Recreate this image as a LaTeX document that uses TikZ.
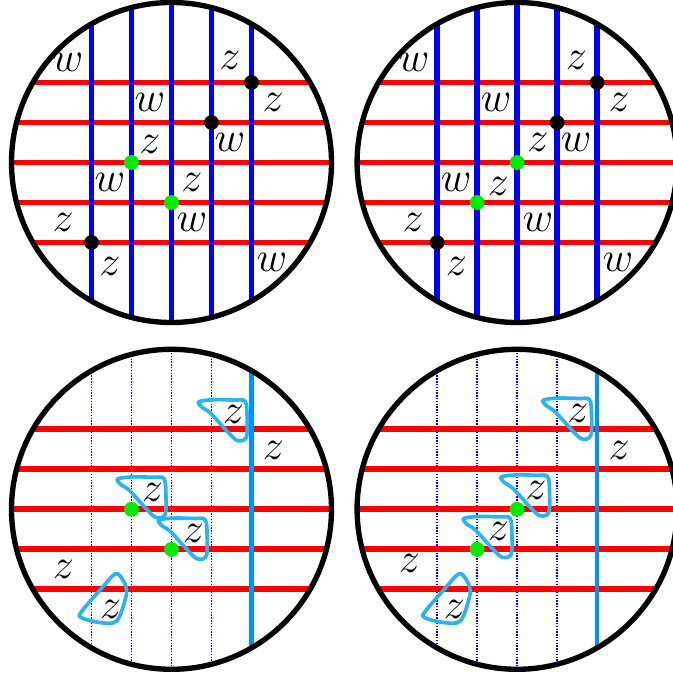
\RequirePackage{fix-cm}
\documentclass[tikz,border=0pt]{standalone}
\usepackage{tikz}
\usetikzlibrary{calc}
\definecolor{gridred}{RGB}{255,0,0}
\definecolor{gridblue}{RGB}{0,0,255}
\definecolor{dotgreen}{RGB}{0,235,0}
\definecolor{cutblue}{RGB}{0,145,255}
\definecolor{loopblue}{RGB}{40,180,240}

\begin{document}
\begin{tikzpicture}[
  redline/.style={gridred, line width=4pt},
  blueline/.style={gridblue, line width=4pt},
  thinline/.style={gridblue, line width=1pt, densely dotted},
  cutline/.style={cutblue, line width=3.2pt},
  rim/.style={black, line width=3.8pt},
  loopline/.style={loopblue, line width=2.6pt},
  lbl/.style={font=\fontsize{30}{36}\selectfont, inner sep=0pt},
  blackdot/.style={circle, fill=black, inner sep=0pt, minimum size=0.37cm},
  greendot/.style={circle, fill=dotgreen, inner sep=0pt, minimum size=0.37cm}
]
\useasboundingbox (-4.2875,-12.9125) rectangle (12.5125,4.0625);

% Top left
\begin{scope}
  \begin{scope}
    \clip (0,0) circle (4);
    \foreach \y in {-2,...,2} \draw[redline] (-4,\y) -- (4,\y);
    \foreach \x in {-2,...,2} \draw[blueline] (\x,-4) -- (\x,4);
  \end{scope}
  \draw[rim] (0,0) circle (4);
  \node[blackdot] (tl-b1) at (2,2) {};
  \node[blackdot] (tl-b2) at (1,1) {};
  \node[blackdot] (tl-b3) at (-2,-2) {};
  \node[greendot] (tl-g1) at (-1,0) {};
  \node[greendot] (tl-g2) at (0,-1) {};
  \node[lbl] (tl-w1) at (-2.59,2.51) {$w$};
  \node[lbl] (tl-z1) at (1.46,2.56) {$z$};
  \node[lbl] (tl-z2) at (2.54,1.49) {$z$};
  \node[lbl] (tl-w2) at (-0.54,1.49) {$w$};
  \node[lbl] (tl-w3) at (1.46,0.51) {$w$};
  \node[lbl] (tl-z3) at (-0.54,0.44) {$z$};
  \node[lbl] (tl-w4) at (-1.54,-0.51) {$w$};
  \node[lbl] (tl-z4) at (0.51,-0.51) {$z$};
  \node[lbl] (tl-w5) at (0.51,-1.49) {$w$};
  \node[lbl] (tl-z5) at (-2.71,-1.51) {$z$};
  \node[lbl] (tl-z6) at (-1.54,-2.61) {$z$};
  \node[lbl] (tl-w6) at (2.51,-2.51) {$w$};
\end{scope}

% Top right
\begin{scope}[shift={(8.64,0)}]
  \begin{scope}
    \clip (0,0) circle (4);
    \foreach \y in {-2,...,2} \draw[redline] (-4,\y) -- (4,\y);
    \foreach \x in {-2,...,2} \draw[blueline] (\x,-4) -- (\x,4);
  \end{scope}
  \draw[rim] (0,0) circle (4);
  \node[blackdot] (tr-b1) at (2,2) {};
  \node[blackdot] (tr-b2) at (1,1) {};
  \node[blackdot] (tr-b3) at (-2,-2) {};
  \node[greendot] (tr-g1) at (0,0) {};
  \node[greendot] (tr-g2) at (-1,-1) {};
  \node[lbl] (tr-w1) at (-2.57,2.51) {$w$};
  \node[lbl] (tr-z1) at (1.48,2.56) {$z$};
  \node[lbl] (tr-z2) at (2.55,1.49) {$z$};
  \node[lbl] (tr-w2) at (-0.52,1.49) {$w$};
  \node[lbl] (tr-z3) at (0.52,0.51) {$z$};
  \node[lbl] (tr-w3) at (1.48,0.51) {$w$};
  \node[lbl] (tr-w4) at (-1.52,-0.51) {$w$};
  \node[lbl] (tr-z4) at (-0.47,-0.61) {$z$};
  \node[lbl] (tr-w5) at (0.52,-1.49) {$w$};
  \node[lbl] (tr-z5) at (-2.6,-1.49) {$z$};
  \node[lbl] (tr-z6) at (-1.52,-2.61) {$z$};
  \node[lbl] (tr-w6) at (2.52,-2.51) {$w$};
\end{scope}

% Bottom left
\begin{scope}[shift={(0,-8.67)}]
  \begin{scope}
    \clip (0,0) circle (4);
    \foreach \x in {-2,...,1} \draw[thinline] (\x,-4) -- (\x,4);
    \foreach \y in {-2,...,2} \draw[redline] (-4,\y) -- (4,\y);
    \draw[cutline] (2,-4) -- (2,4);
  \end{scope}
  \draw[rim] (0,0) circle (4);
  \node[greendot] (bl-g1) at (-1,0) {};
  \node[greendot] (bl-g2) at (0,-1) {};
  \foreach \p in {(1.55,2.36),(-0.48,0.43),(0.55,-0.6)}
    \draw[loopline, shift={\p}] plot[smooth cycle, tension=0.55] coordinates
      {(-0.86,0.33) (-0.5,0.38) (0,0.37) (0.29,0.34) (0.34,-0.05) (0.32,-0.56)
       (0.1,-0.64) (-0.15,-0.42) (-0.57,0.04) (-0.8,0.2)};
  \draw[loopline, shift={(-1.52,-2.5)}] plot[smooth cycle, tension=0.55] coordinates
    {(0.19,0.88) (0.37,0.6) (0.38,0.31) (0.15,-0.29) (-0.27,-0.33) (-0.75,-0.2)
     (-0.7,-0.02) (-0.18,0.58) (0.05,0.84)};
  \node[lbl] (bl-z1) at (1.55,2.36) {$z$};
  \node[lbl] (bl-z2) at (2.55,1.48) {$z$};
  \node[lbl] (bl-z3) at (-0.48,0.43) {$z$};
  \node[lbl] (bl-z4) at (0.55,-0.6) {$z$};
  \node[lbl] (bl-z5) at (-2.7,-1.5) {$z$};
  \node[lbl] (bl-z6) at (-1.52,-2.5) {$z$};
\end{scope}

% Bottom right
\begin{scope}[shift={(8.64,-8.67)}]
  \begin{scope}
    \clip (0,0) circle (4);
    \foreach \x in {-2,...,1} \draw[thinline] (\x,-4) -- (\x,4);
    \foreach \y in {-2,...,2} \draw[redline] (-4,\y) -- (4,\y);
    \draw[cutline] (2,-4) -- (2,4);
  \end{scope}
  \draw[rim] (0,0) circle (4);
  \node[greendot] (br-g1) at (0,0) {};
  \node[greendot] (br-g2) at (-1,-1) {};
  \foreach \p in {(1.52,2.4),(0.47,0.48),(-0.47,-0.56)}
    \draw[loopline, shift={\p}] plot[smooth cycle, tension=0.55] coordinates
      {(-0.86,0.33) (-0.5,0.38) (0,0.37) (0.29,0.34) (0.34,-0.05) (0.32,-0.56)
       (0.1,-0.64) (-0.15,-0.42) (-0.57,0.04) (-0.8,0.2)};
  \draw[loopline, shift={(-1.57,-2.5)}] plot[smooth cycle, tension=0.55] coordinates
    {(0.19,0.88) (0.37,0.6) (0.38,0.31) (0.15,-0.29) (-0.27,-0.33) (-0.75,-0.2)
     (-0.7,-0.02) (-0.18,0.58) (0.05,0.84)};
  \node[lbl] (br-z1) at (1.52,2.4) {$z$};
  \node[lbl] (br-z2) at (2.55,1.48) {$z$};
  \node[lbl] (br-z3) at (0.47,0.48) {$z$};
  \node[lbl] (br-z4) at (-0.47,-0.56) {$z$};
  \node[lbl] (br-z5) at (-2.69,-1.35) {$z$};
  \node[lbl] (br-z6) at (-1.57,-2.5) {$z$};
\end{scope}
\end{tikzpicture}
\end{document}
